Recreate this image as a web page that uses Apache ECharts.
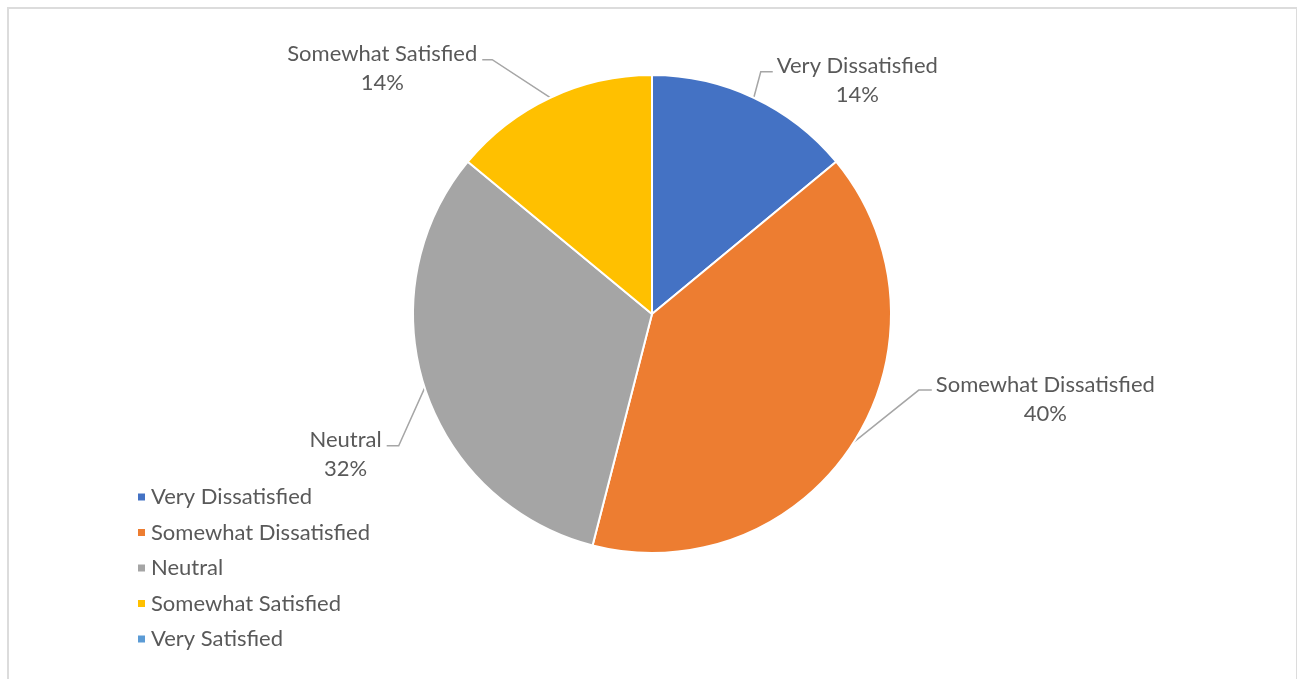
<!DOCTYPE html>
<html>
<head>
<meta charset="utf-8">
<script src="https://cdn.jsdelivr.net/npm/echarts@6/dist/echarts.min.js"></script>
<style>
  html, body { margin: 0; padding: 0; background: #fff; }
  #frame { position: absolute; left: 7px; top: 7px; width: 1287px; height: 700px; border: 2px solid #dcdcdc; }
  #chart { position: absolute; left: 0; top: 0; width: 1297px; height: 679px; }
</style>
</head>
<body>
<div id="frame"></div>
<div id="chart"></div>
<script>
// satisfaction survey, counts per answer
const categories = ['Very Dissatisfied', 'Somewhat Dissatisfied', 'Neutral', 'Somewhat Satisfied', 'Very Satisfied'];
const responses = [7, 20, 16, 7, 0];
const sliceColors = ['#4472C4', '#ED7D31', '#A5A5A5', '#FFC000', '#5B9BD5'];

const FONT = 'Lato';
const TEXT_COLOR = '#595959';
const CX = 652, CY = 314, R = 239;

// leader line: bend offset from the slice edge, then a short horizontal run
const leaderBends = [
  { dx: 7, dy: -26, run: 12 },
  { dx: 65, dy: -52, run: 13 },
  { dx: -26, dy: 58, run: -12 },
  { dx: -58, dy: -38, run: -10 },
  null
];

const total = responses.reduce((a, b) => a + b, 0);
// mid angle of each slice, clockwise from 12 o'clock
let acc = 0;
const midAngles = responses.map(v => {
  const a = (acc + v / 2) / total * Math.PI * 2;
  acc += v;
  return a;
});

const chart = echarts.init(document.getElementById('chart'));

const option = {
  animation: false,
  color: sliceColors,
  legend: {
    orient: 'vertical',
    left: 131,
    top: 481,
    itemWidth: 9,
    itemHeight: 9,
    itemGap: 13.5,
    icon: 'rect',
    textStyle: { fontFamily: FONT, fontSize: 22, color: TEXT_COLOR },
    data: categories
  },
  series: [{
    type: 'pie',
    center: [CX, CY],
    radius: R,
    startAngle: 90,
    clockwise: true,
    avoidLabelOverlap: false,
    emphasis: { scale: false },
    itemStyle: { borderColor: '#fff', borderWidth: 2 },
    label: {
      show: true,
      position: 'outside',
      formatter: function (p) {
        return '{n|' + p.name + '}\n{p|' + Math.round(p.percent) + '%}';
      },
      rich: {
        n: { fontFamily: FONT, fontSize: 22, color: TEXT_COLOR, lineHeight: 29, align: 'center' },
        p: { fontFamily: FONT, fontSize: 22, color: TEXT_COLOR, lineHeight: 29, align: 'center' }
      }
    },
    labelLine: { show: true, smooth: false, lineStyle: { color: '#A6A6A6', width: 1.5 } },
    labelLayout: function (params) {
      const bend = leaderBends[params.dataIndex];
      if (!bend) return {};
      const a = midAngles[params.dataIndex];
      const p0 = [CX + R * Math.sin(a), CY - R * Math.cos(a)];
      const p1 = [p0[0] + bend.dx, p0[1] + bend.dy];
      const p2 = [p1[0] + bend.run, p1[1]];
      const right = bend.run > 0;
      return {
        x: p2[0] + (right ? 4 : -5),
        y: p2[1] - 20,
        align: right ? 'left' : 'right',
        verticalAlign: 'top',
        labelLinePoints: [p0, p1, p2]
      };
    },
    data: categories.map((name, i) => {
      const item = { name: name, value: responses[i] };
      if (!responses[i]) {
        item.label = { show: false };
        item.labelLine = { show: false };
      }
      return item;
    })
  }]
};

chart.setOption(option);
</script>
</body>
</html>
